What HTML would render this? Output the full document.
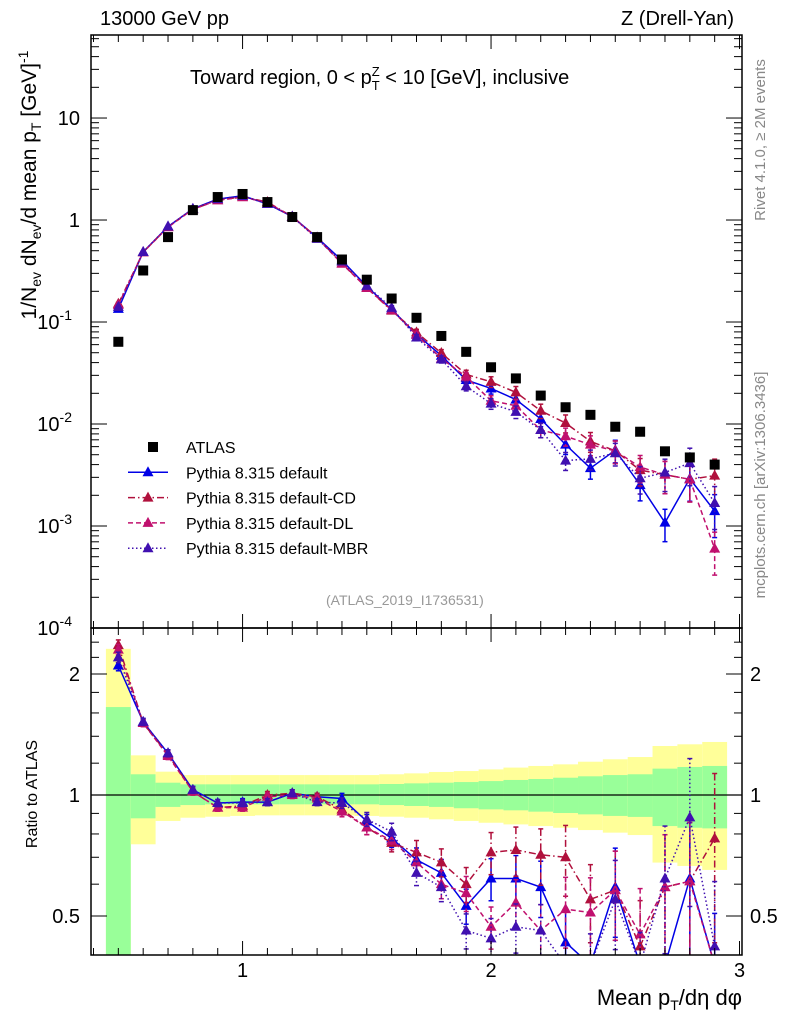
<!DOCTYPE html>
<html><head><meta charset="utf-8"><style>
html,body{margin:0;padding:0;background:#fff;width:786px;height:1024px;overflow:hidden}
svg{display:block}
svg text{font-family:"Liberation Sans",sans-serif}
</style></head><body>
<svg id="c" width="786" height="1024" viewBox="0 0 786 1024" xmlns="http://www.w3.org/2000/svg">
 <text x="100" y="25" font-size="20">13000 GeV pp</text>
 <text x="734" y="25" font-size="20" text-anchor="end">Z (Drell-Yan)</text>
 <text x="190" y="84" font-size="20">Toward region, 0 &lt; p<tspan font-size="13" dy="6">T</tspan><tspan font-size="13" dx="-8" dy="-14">Z</tspan><tspan dy="8"> &lt; 10 [GeV], inclusive</tspan></text>
 <text x="326" y="605" font-size="14" fill="#999">(ATLAS_2019_I1736531)</text>
 <text x="742" y="1005" font-size="22" text-anchor="end">Mean p<tspan font-size="14" dy="5">T</tspan><tspan dy="-5">/dη dφ</tspan></text>
 <text transform="translate(36,185) rotate(-90)" font-size="21" text-anchor="middle">1/N<tspan font-size="14" dy="5">ev</tspan><tspan dy="-5"> dN</tspan><tspan font-size="14" dy="5">ev</tspan><tspan dy="-5">/d mean p</tspan><tspan font-size="14" dy="5">T</tspan><tspan dy="-5"> [GeV]</tspan><tspan font-size="14" dy="-8">-1</tspan></text>
 <text transform="translate(37,794) rotate(-90)" font-size="16" text-anchor="middle">Ratio to ATLAS</text>
 <text transform="translate(765,140) rotate(-90)" font-size="15" fill="#888" text-anchor="middle">Rivet 4.1.0, ≥ 2M events</text>
 <text transform="translate(765,485) rotate(-90)" font-size="15" fill="#888" text-anchor="middle">mcplots.cern.ch [arXiv:1306.3436]</text>
</svg>
<script>
const xs=[0.5,0.6,0.7,0.8,0.9,1.0,1.1,1.2,1.3,1.4,1.5,1.6,1.7,1.8,1.9,2.0,2.1,2.2,2.3,2.4,2.5,2.6,2.7,2.8,2.9];
const atlas=[0.064,0.32,0.68,1.25,1.68,1.8,1.5,1.07,0.68,0.41,0.26,0.17,0.11,0.073,0.051,0.036,0.028,0.019,0.0146,0.0123,0.0094,0.0084,0.0054,0.0047,0.0040];
const rDef=[2.10,1.52,1.27,1.03,0.955,0.96,0.96,1.01,0.99,0.98,0.86,0.78,0.69,0.64,0.53,0.62,0.62,0.59,0.43,0.3,0.59,0.3,0.2,0.62,0.35];
const rCD=[2.36,1.51,1.26,1.02,0.93,0.94,1.0,1.01,0.99,0.92,0.83,0.76,0.72,0.68,0.60,0.72,0.73,0.71,0.70,0.55,0.58,0.42,0.59,0.61,0.78];
const rDL=[2.3,1.51,1.25,1.02,0.93,0.93,0.99,1.0,0.98,0.91,0.83,0.77,0.68,0.6,0.57,0.47,0.54,0.46,0.52,0.51,0.58,0.45,0.59,0.61,0.15];
const rMBR=[2.2,1.52,1.27,1.03,0.955,0.955,0.96,1.01,0.96,0.955,0.87,0.81,0.64,0.59,0.46,0.44,0.47,0.46,0.3,0.37,0.55,0.35,0.62,0.88,0.42];
const relErr=[0.03,0.02,0.02,0.02,0.02,0.02,0.02,0.02,0.02,0.03,0.04,0.05,0.07,0.08,0.1,0.12,0.14,0.16,0.2,0.22,0.25,0.3,0.35,0.4,0.45];
const yUp=[2.31,1.255,1.143,1.121,1.121,1.121,1.121,1.121,1.121,1.121,1.121,1.126,1.132,1.141,1.147,1.158,1.170,1.181,1.192,1.210,1.227,1.243,1.324,1.337,1.355];
const gUp=[1.655,1.126,1.073,1.063,1.063,1.063,1.063,1.063,1.063,1.063,1.063,1.065,1.069,1.073,1.077,1.083,1.090,1.096,1.104,1.113,1.121,1.126,1.163,1.174,1.181];
const gDn=[0.3,0.875,0.934,0.944,0.948,0.948,0.948,0.948,0.948,0.948,0.948,0.944,0.939,0.934,0.927,0.921,0.916,0.909,0.902,0.895,0.887,0.882,0.837,0.829,0.826];
const yDn=[0.3,0.754,0.862,0.878,0.883,0.887,0.890,0.890,0.890,0.890,0.887,0.883,0.878,0.870,0.862,0.853,0.845,0.837,0.829,0.818,0.806,0.795,0.679,0.666,0.651];
const xTicks=[1,2,3];
const mainTicks=[[1,"10"],[0,"1"],[-1,"10"],[-2,"10"],[-3,"10"],[-4,"10"]];
const ratioTicks=[[2,"2"],[1,"1"],[0.5,"0.5"]];

const NS="http://www.w3.org/2000/svg",svg=document.getElementById('c');
function el(t,a,p){const e=document.createElementNS(NS,t);for(const k in a)e.setAttribute(k,a[k]);(p||svg).appendChild(e);return e;}
const L=91,R=742,MT=35,MB=628,RT=628,RB=955;
const cl=(v,a,b)=>Math.max(a,Math.min(b,v));
const X=v=>L+(v-0.39)/(3.01-0.39)*(R-L);
const YM=v=>cl(MB-(Math.log10(v)+4)/(1.814+4)*(MB-MT),MT-10,MB+10);
const YR=v=>cl(795-Math.log2(v)*121,RT-10,RB+10);
const clipR=el('clipPath',{id:'cr'});el('rect',{x:L,y:RT,width:R-L,height:RB-RT},clipR);
const clipM=el('clipPath',{id:'cm'});el('rect',{x:L,y:MT,width:R-L,height:MB-MT},clipM);

const gB=el('g',{'clip-path':'url(#cr)'});

xs.forEach((x,i)=>{
 const x0=X(x-0.05),x1=X(x+0.05);
 const y=el('rect',{x:x0,y:YR(yUp[i]),width:x1-x0,height:YR(yDn[i])-YR(yUp[i]),fill:'#ffff99'},gB);
 
 const g=el('rect',{x:x0,y:YR(gUp[i]),width:x1-x0,height:YR(gDn[i])-YR(gUp[i]),fill:'#99ff99'},gB);
 
});
el('line',{x1:L,x2:R,y1:YR(1),y2:YR(1),stroke:'#000','stroke-width':1.2});

const series=[
 {name:'default',r:rDef,c:'#0000e6',d:''},
 {name:'default-cd',r:rCD,c:'#b0103c',d:'7,3,1.5,3'},
 {name:'default-dl',r:rDL,c:'#c0106e',d:'5,3'},
 {name:'default-mbr',r:rMBR,c:'#4010b0',d:'1.5,2.5'}];
function tri(g,x,y,c){return el('path',{d:`M${x},${y-6}L${x+5.5},${y+4}L${x-5.5},${y+4}Z`,fill:c},g);}
series.forEach(s=>{
 [['m',YM,'url(#cm)',i=>atlas[i]*s.r[i]],['r',YR,'url(#cr)',i=>s.r[i]]].forEach(([p,Y,cp,f])=>{
  const g=el('g',{'clip-path':cp});
  
  
  const pts=xs.map((x,i)=>X(x)+','+Y(f(i))).join(' ');
  el('polyline',{points:pts,fill:'none',stroke:s.c,'stroke-width':1.5,'stroke-dasharray':s.d},g);
  xs.forEach((x,i)=>{const v=f(i),e=relErr[i];
   const ya=Y(v*(1+e)),yb=Y(Math.max(v*(1-e),1e-6));
   el('line',{x1:X(x),x2:X(x),y1:ya,y2:yb,stroke:s.c,'stroke-width':1.5,'stroke-dasharray':s.d},g);
   el('line',{x1:X(x)-2.5,x2:X(x)+2.5,y1:ya,y2:ya,stroke:s.c,'stroke-width':1.5},g);
   el('line',{x1:X(x)-2.5,x2:X(x)+2.5,y1:yb,y2:yb,stroke:s.c,'stroke-width':1.5},g);
   const t=tri(g,X(x),Y(v),s.c);
   
  });
 });
});
const gA=el('g',{'clip-path':'url(#cm)'});

xs.forEach((x,i)=>{const r=el('rect',{x:X(x)-5,y:YM(atlas[i])-5,width:10,height:10,fill:'#000'},gA);
 });

el('rect',{x:L,y:MT,width:R-L,height:MB-MT,fill:'none',stroke:'#000','stroke-width':1.5});
el('rect',{x:L,y:RT,width:R-L,height:RB-RT,fill:'none',stroke:'#000','stroke-width':1.5});
for(let k=4;k<=30;k++){const v=k/10,x=X(v),big=k%10==0,h=big?14:7;
 [MT,RT].forEach(t=>el('line',{x1:x,x2:x,y1:t,y2:t+h,stroke:'#000','stroke-width':1}));
 [MB,RB].forEach(b=>el('line',{x1:x,x2:x,y1:b,y2:b-h,stroke:'#000','stroke-width':1}));}
xTicks.forEach(v=>{const t=el('text',{x:X(v),y:977,'font-size':20,'text-anchor':'middle'});t.textContent=v;
 });
for(let d=-4;d<=1;d++)for(let m=1;m<=9;m++){const v=m*Math.pow(10,d),y=YM(v);if(y<MT)continue;const h=m==1?16:8;
 el('line',{x1:L,x2:L+h,y1:y,y2:y,stroke:'#000'});el('line',{x1:R,x2:R-h,y1:y,y2:y,stroke:'#000'});}
mainTicks.forEach(([e,s])=>{const t=el('text',{x:e>=0?80:72,y:YM(Math.pow(10,e))+7,'font-size':20,'text-anchor':'end'});t.textContent=s;
 if(e<0){const sp=el('tspan',{dy:-9,'font-size':14},t);sp.textContent=String(e);}
 });
[0.5,0.6,0.7,0.8,0.9,1,1.2,1.4,1.6,1.8,2,2.2,2.4].forEach(v=>{const y=YR(v),h=[0.5,1,2].includes(v)?16:8;
 el('line',{x1:L,x2:L+h,y1:y,y2:y,stroke:'#000'});el('line',{x1:R,x2:R-h,y1:y,y2:y,stroke:'#000'});});
ratioTicks.forEach(([v,s])=>{[[80,'end'],[750,'start']].forEach(([x,a])=>{const t=el('text',{x:x,y:YR(v)+7,'font-size':20,'text-anchor':a});t.textContent=s;
 });});
const leg=el('g',{});
const lt=['ATLAS','Pythia 8.315 default','Pythia 8.315 default-CD','Pythia 8.315 default-DL','Pythia 8.315 default-MBR'];
lt.forEach((s,i)=>{const y=447+i*25.3;
 if(i==0)el('rect',{x:148,y:y-5,width:10,height:10,fill:'#000'},leg);
 else{const sr=series[i-1];el('line',{x1:128,x2:168,y1:y,y2:y,stroke:sr.c,'stroke-width':1.5,'stroke-dasharray':sr.d},leg);tri(leg,148,y,sr.c);}
 const t=el('text',{x:186,y:y+6,'font-size':16},leg);t.textContent=s;
 });
</script>
</body></html>
